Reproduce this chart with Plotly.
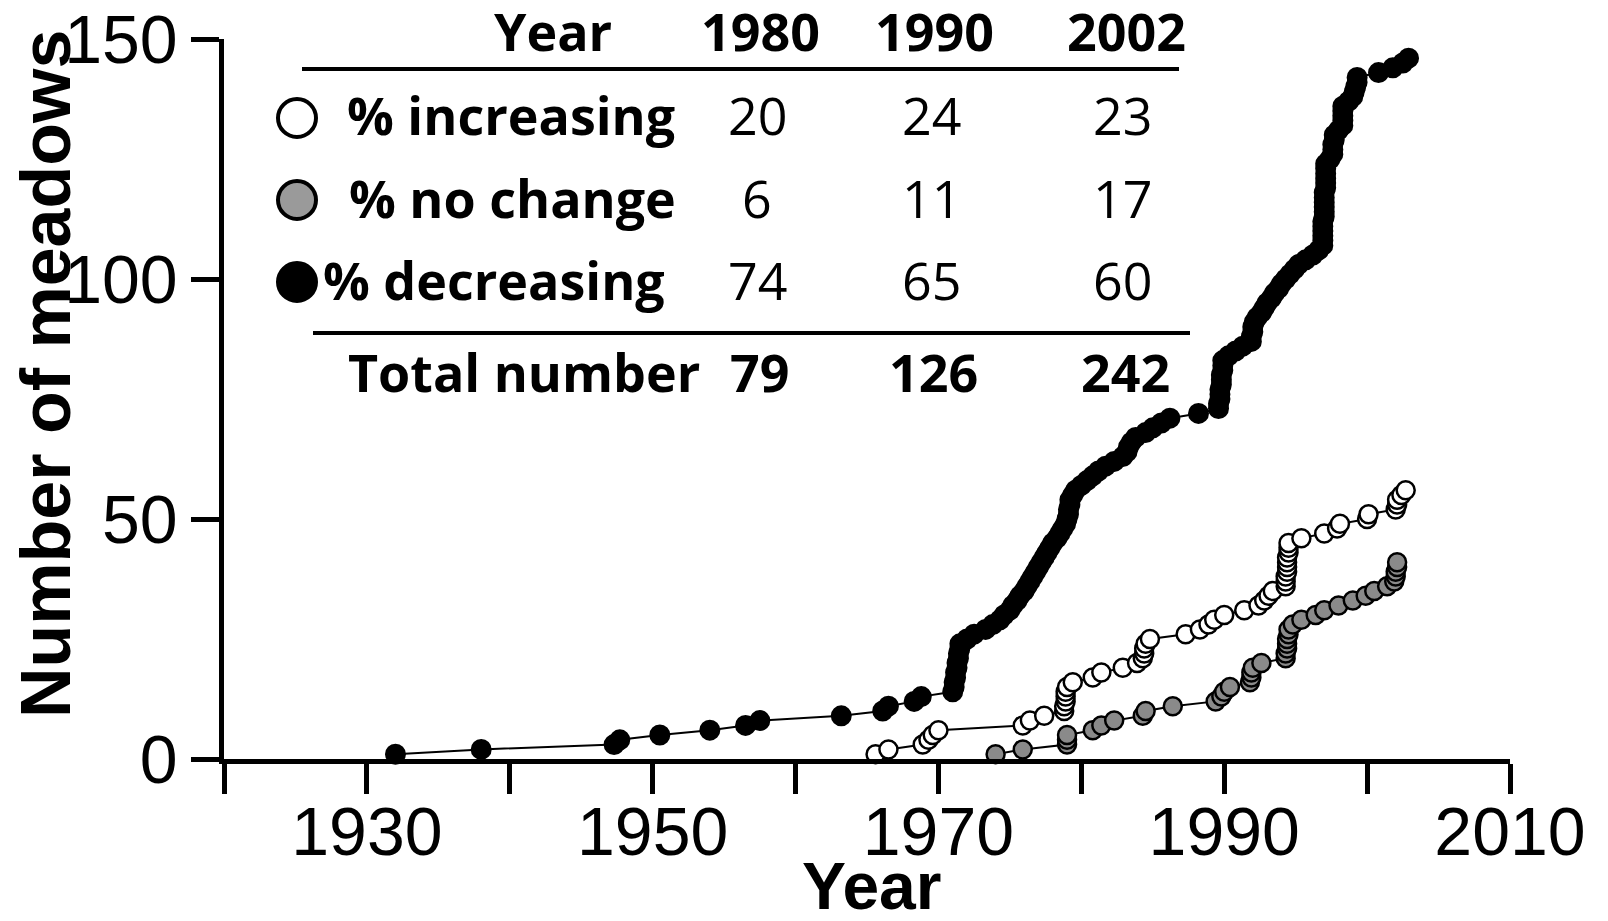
import plotly.graph_objects as go

# ---------------- data ----------------
dec_years = [1932.0, 1938.0, 1947.3, 1947.7, 1950.5, 1954.0, 1956.5, 1957.5, 1963.2, 1966.1,
             1966.5, 1968.3, 1968.8, 1971.0, 1971.1, 1971.1, 1971.2, 1971.2, 1971.3, 1971.3,
             1971.4, 1971.4, 1971.5, 1971.5, 1972.0, 1972.5, 1973.3, 1973.8, 1974.3, 1974.6,
             1975.0, 1975.2, 1975.5, 1975.7, 1976.0, 1976.2, 1976.4, 1976.6, 1976.8, 1977.0,
             1977.2, 1977.4, 1977.6, 1977.8, 1978.0, 1978.3, 1978.5, 1978.7, 1978.9, 1979.0,
             1979.1, 1979.1, 1979.2, 1979.2, 1979.4, 1979.6, 1980.0, 1980.4, 1980.8, 1981.2,
             1981.7, 1982.3, 1982.9, 1983.2, 1983.3, 1983.5, 1983.8, 1984.5, 1985.0, 1985.6,
             1986.2, 1988.2, 1989.6, 1989.6, 1989.7, 1989.7, 1989.7, 1989.8, 1989.8, 1989.8,
             1989.9, 1989.9, 1989.9, 1990.3, 1990.8, 1991.3, 1991.9, 1991.9, 1992.0, 1992.0,
             1992.1, 1992.3, 1992.6, 1992.8, 1993.0, 1993.3, 1993.5, 1993.8, 1994.0, 1994.3,
             1994.6, 1994.9, 1995.2, 1995.7, 1996.2, 1996.6, 1996.9, 1996.9, 1996.9, 1996.9,
             1996.9, 1996.9, 1997.0, 1997.0, 1997.0, 1997.0, 1997.0, 1997.0, 1997.1, 1997.1,
             1997.1, 1997.1, 1997.1, 1997.1, 1997.4, 1997.6, 1997.6, 1997.6, 1997.7, 1997.7,
             1998.0, 1998.3, 1998.3, 1998.3, 1998.3, 1998.3, 1998.7, 1999.0, 1999.1, 1999.2,
             1999.3, 1999.3, 2000.8, 2001.8, 2002.5, 2002.9]
dec_counts = [1, 2, 3, 4, 5, 6, 7, 8, 9, 10,
              11, 12, 13, 14, 15, 16, 17, 18, 19, 20,
              21, 22, 23, 24, 25, 26, 27, 28, 29, 30,
              31, 32, 33, 34, 35, 36, 37, 38, 39, 40,
              41, 42, 43, 44, 45, 46, 47, 48, 49, 50,
              51, 52, 53, 54, 55, 56, 57, 58, 59, 60,
              61, 62, 63, 64, 65, 66, 67, 68, 69, 70,
              71, 72, 73, 74, 75, 76, 77, 78, 79, 80,
              81, 82, 83, 84, 85, 86, 87, 88, 89, 90,
              91, 92, 93, 94, 95, 96, 97, 98, 99, 100,
              101, 102, 103, 104, 105, 106, 107, 108, 109, 110,
              111, 112, 113, 114, 115, 116, 117, 118, 119, 120,
              121, 122, 123, 124, 125, 126, 127, 128, 129, 130,
              131, 132, 133, 134, 135, 136, 137, 138, 139, 140,
              141, 142, 143, 144, 145, 146]

inc_years = [1965.6, 1966.5, 1968.9, 1969.3, 1969.6, 1970.0, 1975.9, 1976.4, 1977.4,
             1978.8, 1978.8, 1978.9, 1978.9, 1978.9, 1979.0,
             1979.4, 1980.8, 1981.4, 1982.9, 1983.9,
             1984.3, 1984.4, 1984.4, 1984.5, 1984.8,
             1987.3, 1988.3, 1988.9, 1989.3, 1990.0, 1991.4, 1992.4, 1992.8, 1993.1, 1993.4,
             1994.3, 1994.3, 1994.3, 1994.4, 1994.4, 1994.4, 1994.4, 1994.5, 1994.5, 1994.5,
             1995.4, 1997.0, 1997.9, 1998.1, 2000.0, 2000.1,
             2002.0, 2002.1, 2002.1, 2002.4, 2002.7]
inc_counts = [1, 2, 3, 4, 5, 6, 7, 8, 9,
              10, 11, 12, 13, 14, 15,
              16, 17, 18, 19, 20,
              21, 22, 23, 24, 25,
              26, 27, 28, 29, 30, 31, 32, 33, 34, 35,
              36, 37, 38, 39, 40, 41, 42, 43, 44, 45,
              46, 47, 48, 49, 50, 51,
              52, 53, 54, 55, 56]

noc_years = [1974.0, 1975.9, 1979.0, 1979.0, 1979.0, 1980.8, 1981.4, 1982.3, 1984.3, 1984.5, 1986.4,
             1989.4, 1989.8, 1990.0, 1990.4,
             1991.8, 1991.9, 1991.9, 1992.0, 1992.6,
             1994.3, 1994.3, 1994.4, 1994.4, 1994.4, 1994.5, 1994.5, 1994.8, 1995.4, 1996.4,
             1997.0, 1998.0, 1999.0, 1999.9, 2000.5, 2001.4,
             2001.9, 2002.0, 2002.0, 2002.1, 2002.1]
noc_counts = [1, 2, 3, 4, 5, 6, 7, 8, 9, 10, 11,
              12, 13, 14, 15,
              16, 17, 18, 19, 20,
              21, 22, 23, 24, 25, 26, 27, 28, 29, 30,
              31, 32, 33, 34, 35, 36,
              37, 38, 39, 40, 41]

x_tick_vals = [1920, 1930, 1940, 1950, 1960, 1970, 1980, 1990, 2000, 2010]
x_tick_text = ["", "1930", "", "1950", "", "1970", "", "1990", "", "2010"]
y_tick_vals = [0, 50, 100, 150]

table_header = ["Year", "1980", "1990", "2002"]
table_rows = ["% increasing", "% no change", "% decreasing"]
table_values = [["20", "24", "23"], ["6", "11", "17"], ["74", "65", "60"]]
table_totals = ["79", "126", "242"]
row_fills = ["white", "#9a9a9a", "black"]

# ---------------- layout geometry (pixels) ----------------
W, H = 1608, 921
L, R, T, B = 224, 98, 39, 162
PW, PH = W - L - R, H - T - B


def px(x):
    return (x - L) / PW


def py(y):
    return (H - B - y) / PH


fig = go.Figure()

line_style = dict(color="black", width=2)
fig.add_trace(go.Scatter(x=inc_years, y=inc_counts, mode="lines+markers", line=line_style,
                         marker=dict(size=18, color="white", line=dict(color="black", width=2.5)),
                         cliponaxis=False, showlegend=False))
fig.add_trace(go.Scatter(x=noc_years, y=noc_counts, mode="lines+markers", line=line_style,
                         marker=dict(size=18, color="#8a8a8a", line=dict(color="black", width=2.5)),
                         cliponaxis=False, showlegend=False))
fig.add_trace(go.Scatter(x=dec_years, y=dec_counts, mode="lines+markers", line=line_style,
                         marker=dict(size=19, color="black", line=dict(color="black", width=2)),
                         cliponaxis=False, showlegend=False))

tick_font = dict(family="Liberation Sans, Arial, sans-serif", size=68, color="black")
fig.update_xaxes(range=[1920, 2010], tickvals=x_tick_vals, ticktext=x_tick_text,
                 showline=True, linewidth=4.5, linecolor="black", mirror=False,
                 ticks="outside", ticklen=30, tickwidth=4.5, tickcolor="black",
                 ticklabelstandoff=-20,
                 tickfont=tick_font, showgrid=False, zeroline=False, automargin=False)
fig.update_yaxes(range=[0, 150], tickvals=y_tick_vals,
                 showline=True, linewidth=4.5, linecolor="black",
                 ticks="outside", ticklen=28, tickwidth=4.5, tickcolor="black",
                 tickfont=tick_font, showgrid=False, zeroline=False, automargin=False)

annotations = []
shapes = []

# axis titles
annotations.append(dict(text="<b>Year</b>", xref="paper", yref="paper", x=px(871), y=py(886),
                        xanchor="center", yanchor="middle", showarrow=False,
                        font=dict(family="Liberation Sans, Arial, sans-serif", size=66, color="black")))
annotations.append(dict(text="<b>Number of meadows</b>", xref="paper", yref="paper", x=px(46), y=py(374),
                        xanchor="center", yanchor="middle", showarrow=False, textangle=-90,
                        font=dict(family="Liberation Sans, Arial, sans-serif",
                                  size=70, color="black")))

tfont = "Open Sans, Noto Sans, sans-serif"
TS = 52
col_x_head = [553, 760, 935, 1126]
col_x_vals = [757, 931, 1122]
col_x_tot = [759, 933, 1125]
row_y = [115, 197, 279]
row_label_x = [345, 347, 321]

for txt, cx in zip(table_header, col_x_head):
    annotations.append(dict(text="<b>%s</b>" % txt, xref="paper", yref="paper", x=px(cx), y=py(30),
                            xanchor="center", yanchor="middle", showarrow=False,
                            font=dict(family=tfont, size=TS, color="black")))
for i, (lab, vals) in enumerate(zip(table_rows, table_values)):
    annotations.append(dict(text="<b>%s</b>" % lab, xref="paper", yref="paper", x=px(row_label_x[i]),
                            y=py(row_y[i]), xanchor="left", yanchor="middle", showarrow=False,
                            font=dict(family=tfont, size=TS, color="black")))
    for v, cx in zip(vals, col_x_vals):
        annotations.append(dict(text=v, xref="paper", yref="paper", x=px(cx), y=py(row_y[i]),
                                xanchor="center", yanchor="middle", showarrow=False,
                                font=dict(family=tfont, size=TS, color="black")))
    r = 19
    cy = row_y[i] + 3
    shapes.append(dict(type="circle", xref="paper", yref="paper",
                       x0=px(297 - r), x1=px(297 + r), y0=py(cy + r), y1=py(cy - r),
                       fillcolor=row_fills[i], line=dict(color="black", width=4)))

annotations.append(dict(text="<b>Total number</b>", xref="paper", yref="paper", x=px(702), y=py(371),
                        xanchor="right", yanchor="middle", showarrow=False,
                        font=dict(family=tfont, size=TS, color="black")))
for v, cx in zip(table_totals, col_x_tot):
    annotations.append(dict(text="<b>%s</b>" % v, xref="paper", yref="paper", x=px(cx), y=py(371),
                            xanchor="center", yanchor="middle", showarrow=False,
                            font=dict(family=tfont, size=TS, color="black")))

shapes.append(dict(type="line", xref="paper", yref="paper", x0=px(302), x1=px(1179), y0=py(69), y1=py(69),
                   line=dict(color="black", width=4)))
shapes.append(dict(type="line", xref="paper", yref="paper", x0=px(313), x1=px(1190), y0=py(333), y1=py(333),
                   line=dict(color="black", width=4)))

fig.update_layout(width=W, height=H, margin=dict(l=L, r=R, t=T, b=B, pad=0),
                  paper_bgcolor="white", plot_bgcolor="white",
                  annotations=annotations, shapes=shapes, showlegend=False)

fig.write_html("out.html")
